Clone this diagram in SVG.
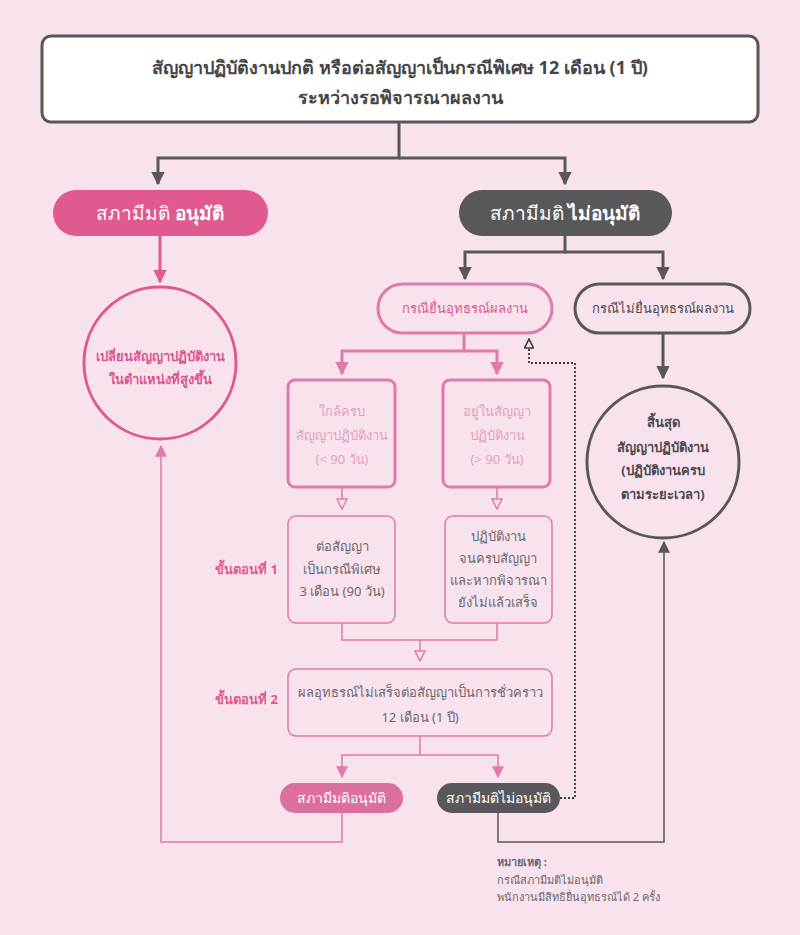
<svg xmlns="http://www.w3.org/2000/svg" width="800" height="935" viewBox="0 0 800 935">
<defs>
<style>
text{font-family:"Noto Sans","DejaVu Sans","Liberation Sans",sans-serif;text-anchor:middle}
.t-top{font-size:18px;font-weight:bold;fill:#454547}
.t-pill{font-size:19px;fill:#ffffff}
.t-pink{font-size:13px;fill:#d9578e;font-weight:bold}
.t-light{font-size:13px;fill:#e6a0c1}
.t-box{font-size:13px;fill:#6a6a6c}
.t-gray{font-size:13px;fill:#4a4a4c;font-weight:bold}
.t-step{font-size:13px;fill:#e0598f;font-weight:bold;text-anchor:end}
.t-small{font-size:14px;fill:#ffffff}
.t-note{font-size:11px;fill:#6a6a6c;text-anchor:start}
.c-gray{stroke:#58585a;stroke-width:3;fill:none}
.c-pink{stroke:#e0598f;stroke-width:3;fill:none}
.c-pinkm{stroke:#e07aa8;stroke-width:3;fill:none}
.c-thin{stroke:#e07aa8;stroke-width:1.5;fill:none}
.c-grayt{stroke:#58585a;stroke-width:1.5;fill:none}
.c-dot{stroke:#3a3a3c;stroke-width:1.8;fill:none;stroke-dasharray:2 2}
</style>
<marker id="aGray" viewBox="0 0 10 10" refX="9" refY="5" markerWidth="4.5" markerHeight="4.5" orient="auto" markerUnits="strokeWidth"><path d="M0,0 L10,5 L0,10 z" fill="#58585a"/></marker>
<marker id="aPink" viewBox="0 0 10 10" refX="9" refY="5" markerWidth="4.5" markerHeight="4.5" orient="auto" markerUnits="strokeWidth"><path d="M0,0 L10,5 L0,10 z" fill="#e0598f"/></marker>
<marker id="aPinkM" viewBox="0 0 10 10" refX="9" refY="5" markerWidth="4.5" markerHeight="4.5" orient="auto" markerUnits="strokeWidth"><path d="M0,0 L10,5 L0,10 z" fill="#e07aa8"/></marker>
<marker id="aPinkT" viewBox="0 0 10 10" refX="9" refY="5" markerWidth="8" markerHeight="8" orient="auto" markerUnits="strokeWidth"><path d="M0,0 L10,5 L0,10 z" fill="#e07aa8"/></marker>
<marker id="aGrayT" viewBox="0 0 10 10" refX="9" refY="5" markerWidth="8" markerHeight="8" orient="auto" markerUnits="strokeWidth"><path d="M0,0 L10,5 L0,10 z" fill="#58585a"/></marker>
<marker id="aHollow" viewBox="0 0 12 12" refX="11" refY="6" markerWidth="8" markerHeight="8" orient="auto" markerUnits="strokeWidth"><path d="M1,1 L11,6 L1,11 z" fill="#f8e2ee" stroke="#e07aa8" stroke-width="1.5"/></marker>
<marker id="aHollowD" viewBox="0 0 12 12" refX="11" refY="6" markerWidth="6" markerHeight="6" orient="auto" markerUnits="strokeWidth"><path d="M1,1 L11,6 L1,11 z" fill="#f8e2ee" stroke="#3a3a3c" stroke-width="1.8"/></marker>
</defs>
<rect x="0" y="0" width="800" height="935" fill="#f8e2ee"/>

<g id="connectors">
<path class="c-gray" d="M399,122 V158 H158 V184" marker-end="url(#aGray)"/>
<path class="c-gray" d="M399,158 H565 V184" marker-end="url(#aGray)"/>
<path class="c-pink" d="M160,236 V282" marker-end="url(#aPink)"/>
<path class="c-gray" d="M565,236 V252 H465 V279" marker-end="url(#aGray)"/>
<path class="c-gray" d="M565,252 H663 V279" marker-end="url(#aGray)"/>
<path class="c-pinkm" d="M464,333 V351 H342 V374" marker-end="url(#aPinkM)"/>
<path class="c-pinkm" d="M464,351 H497 V374" marker-end="url(#aPinkM)"/>
<path class="c-gray" d="M663,333 V378" marker-end="url(#aGray)"/>
<path class="c-thin" d="M342,488 V509" marker-end="url(#aHollow)"/>
<path class="c-thin" d="M497,488 V509" marker-end="url(#aHollow)"/>
<path class="c-thin" d="M342,623 V640 H497 V623"/>
<path class="c-thin" d="M420,640 V661" marker-end="url(#aHollow)"/>
<path class="c-thin" d="M420,736 V755 H342 V777" marker-end="url(#aPinkT)"/>
<path class="c-thin" d="M420,755 H498 V777" marker-end="url(#aPinkT)"/>
<path class="c-thin" d="M342,813 V842 H161 V446" marker-end="url(#aPinkT)"/>
<path class="c-grayt" d="M498,813 V842 H664 V542" marker-end="url(#aGrayT)"/>
<path class="c-dot" d="M560,798 H575 V363 H529 V339" marker-end="url(#aHollowD)"/>
</g>

<g id="top">
<rect x="42" y="36" width="716" height="86" rx="9" fill="#ffffff" stroke="#58585a" stroke-width="3"/>
<text class="t-top" x="400" y="74">สัญญาปฏิบัติงานปกติ หรือต่อสัญญาเป็นกรณีพิเศษ 12 เดือน (1 ปี)</text>
<text class="t-top" x="400" y="104">ระหว่างรอพิจารณาผลงาน</text>
</g>

<g id="approve">
<rect x="53" y="190" width="215" height="46" rx="23" fill="#e0598f"/>
<text class="t-pill" x="160" y="220">สภามีมติ <tspan font-weight="bold">อนุมัติ</tspan></text>
</g>

<g id="reject">
<rect x="459" y="190" width="213" height="46" rx="23" fill="#58585a"/>
<text class="t-pill" x="565" y="220">สภามีมติ <tspan font-weight="bold">ไม่อนุมัติ</tspan></text>
</g>

<g id="promote">
<circle cx="160" cy="363" r="76" fill="none" stroke="#e0598f" stroke-width="3"/>
<text class="t-pink" x="160" y="361">เปลี่ยนสัญญาปฏิบัติงาน</text>
<text class="t-pink" x="160" y="384">ในตำแหน่งที่สูงขึ้น</text>
</g>

<g id="appeal">
<rect x="378" y="284" width="174" height="49" rx="24.5" fill="none" stroke="#e07aa8" stroke-width="3"/>
<text class="t-pink" x="465" y="313" style="font-weight:normal">กรณียื่นอุทธรณ์ผลงาน</text>
</g>

<g id="noappeal">
<rect x="575" y="284" width="175" height="49" rx="24.5" fill="none" stroke="#58585a" stroke-width="3"/>
<text class="t-gray" x="663" y="313" style="font-weight:normal">กรณีไม่ยื่นอุทธรณ์ผลงาน</text>
</g>

<g id="end">
<circle cx="663" cy="462" r="76" fill="none" stroke="#58585a" stroke-width="3"/>
<text class="t-gray" x="663" y="427">สิ้นสุด</text>
<text class="t-gray" x="663" y="452">สัญญาปฏิบัติงาน</text>
<text class="t-gray" x="663" y="475">(ปฏิบัติงานครบ</text>
<text class="t-gray" x="663" y="499">ตามระยะเวลา)</text>
</g>

<g id="near">
<rect x="288" y="380" width="107" height="107" rx="7" fill="none" stroke="#e07aa8" stroke-width="3"/>
<text class="t-light" x="342" y="416">ใกล้ครบ</text>
<text class="t-light" x="342" y="440">สัญญาปฏิบัติงาน</text>
<text class="t-light" x="342" y="464">(&lt; 90 วัน)</text>
</g>

<g id="within">
<rect x="443" y="380" width="107" height="107" rx="7" fill="none" stroke="#e07aa8" stroke-width="3"/>
<text class="t-light" x="497" y="416">อยู่ในสัญญา</text>
<text class="t-light" x="497" y="440">ปฏิบัติงาน</text>
<text class="t-light" x="497" y="464">(&gt; 90 วัน)</text>
</g>

<g id="extend3">
<rect x="288" y="516" width="107" height="107" rx="8" fill="none" stroke="#e07aa8" stroke-width="1.5"/>
<text class="t-box" x="342" y="551">ต่อสัญญา</text>
<text class="t-box" x="342" y="574">เป็นกรณีพิเศษ</text>
<text class="t-box" x="342" y="596">3 เดือน (90 วัน)</text>
</g>

<g id="work">
<rect x="445" y="516" width="107" height="107" rx="8" fill="none" stroke="#e07aa8" stroke-width="1.5"/>
<text class="t-box" x="498" y="541">ปฏิบัติงาน</text>
<text class="t-box" x="498" y="563">จนครบสัญญา</text>
<text class="t-box" x="498" y="585">และหากพิจารณา</text>
<text class="t-box" x="498" y="607">ยังไม่แล้วเสร็จ</text>
</g>

<g id="step1"><text class="t-step" x="278" y="574">ขั้นตอนที่ 1</text></g>

<g id="temp12">
<rect x="288" y="669" width="264" height="67" rx="8" fill="none" stroke="#e07aa8" stroke-width="1.5"/>
<text class="t-box" x="420" y="697">ผลอุทธรณ์ไม่เสร็จต่อสัญญาเป็นการชั่วคราว</text>
<text class="t-box" x="420" y="722">12 เดือน (1 ปี)</text>
</g>

<g id="step2"><text class="t-step" x="278" y="704">ขั้นตอนที่ 2</text></g>

<g id="approve2">
<rect x="280" y="783" width="123" height="30" rx="15" fill="#dc6f9e"/>
<text class="t-small" x="341" y="803">สภามีมติอนุมัติ</text>
</g>

<g id="reject2">
<rect x="437" y="783" width="123" height="30" rx="15" fill="#58585a"/>
<text class="t-small" x="498" y="803">สภามีมติไม่อนุมัติ</text>
</g>

<g id="note">
<text class="t-note" x="497" y="866" font-weight="bold">หมายเหตุ :</text>
<text class="t-note" x="497" y="884">กรณีสภามีมติไม่อนุมัติ</text>
<text class="t-note" x="497" y="901">พนักงานมีสิทธิยื่นอุทธรณ์ได้ 2 ครั้ง</text>
</g>
</svg>
